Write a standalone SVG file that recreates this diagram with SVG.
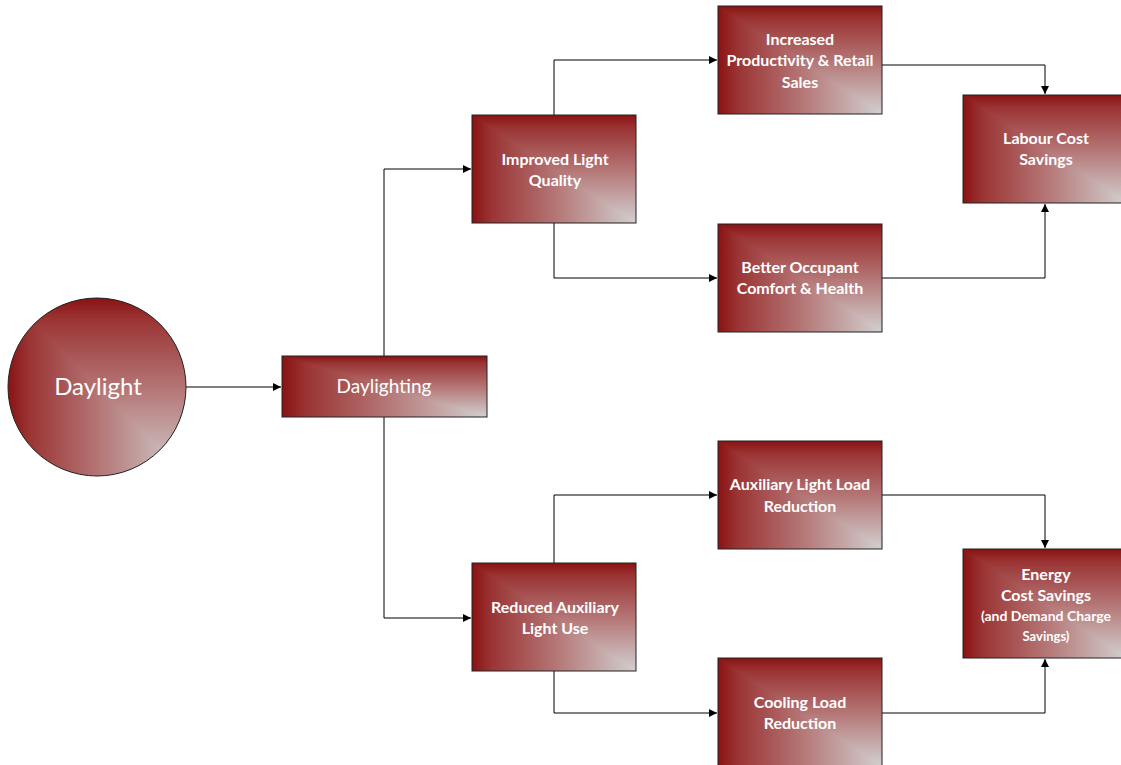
<svg xmlns="http://www.w3.org/2000/svg" width="1121" height="765" viewBox="0 0 1121 765">
<defs>
<linearGradient id="gh" x1="0" y1="0" x2="1" y2="0">
<stop offset="0" stop-color="#8a1212"/>
<stop offset="0.12" stop-color="#9b3434"/>
<stop offset="0.5" stop-color="#b47474"/>
<stop offset="1" stop-color="#d2d0d0"/>
</linearGradient>
<linearGradient id="gv" x1="0" y1="0" x2="0" y2="1">
<stop offset="0" stop-color="#8a1212"/>
<stop offset="0.12" stop-color="#9b3434"/>
<stop offset="0.5" stop-color="#b47474"/>
<stop offset="1" stop-color="#d2d0d0"/>
</linearGradient>
<marker id="ar" viewBox="0 0 10 10" refX="10" refY="5" markerWidth="8" markerHeight="8" markerUnits="userSpaceOnUse" orient="auto">
<path d="M0,0 L10,5 L0,10 Z" fill="#000"/>
</marker>
<clipPath id="cc"><circle cx="97" cy="387" r="89"/></clipPath>
</defs>
<style>
.t{fill:#fff;font-family:Lato,"Liberation Sans",sans-serif;font-size:16px;font-weight:bold;text-anchor:middle}
.bd{fill:none;stroke:#222;stroke-width:1}
.c{fill:none;stroke:#000;stroke-width:1;marker-end:url(#ar)}
</style>
<rect width="1121" height="765" fill="#fff"/>
<g id="connectors">
<path class="c" d="M186,387 H281"/>
<path class="c" d="M384,356 V169 H471"/>
<path class="c" d="M384,417 V618 H471"/>
<path class="c" d="M554,115 V60 H717"/>
<path class="c" d="M554,223 V278 H717"/>
<path class="c" d="M882,65 H1045 V94"/>
<path class="c" d="M882,278 H1045 V204"/>
<path class="c" d="M554,563 V495 H717"/>
<path class="c" d="M554,671 V713 H717"/>
<path class="c" d="M882,495 H1045 V548"/>
<path class="c" d="M882,713 H1045 V659"/>
</g>
<g id="daylight">
<g clip-path="url(#cc)">
<rect x="8" y="298" width="178" height="178" fill="url(#gh)"/>
<path d="M8,298 L186,298 L186,476 Z" fill="url(#gv)"/>
</g>
<circle cx="97" cy="387" r="89" class="bd"/>
<text class="t" x="98" y="395" style="font-size:24px;font-weight:normal">Daylight</text>
</g>
<g id="daylighting">
<rect x="282" y="356" width="205" height="61" fill="url(#gh)"/>
<path d="M282,356 L487,356 L487,417 Z" fill="url(#gv)"/>
<rect x="282" y="356" width="205" height="61" class="bd"/>
<text class="t" x="384" y="393" style="font-size:19px;font-weight:normal">Daylighting</text>
</g>
<g id="improved">
<rect x="472" y="115" width="164" height="108" fill="url(#gh)"/>
<path d="M472,115 L636,115 L636,223 Z" fill="url(#gv)"/>
<rect x="472" y="115" width="164" height="108" class="bd"/>
<text class="t" x="555" y="165">Improved Light</text>
<text class="t" x="555" y="186">Quality</text>
</g>
<g id="productivity">
<rect x="718" y="6" width="164" height="108" fill="url(#gh)"/>
<path d="M718,6 L882,6 L882,114 Z" fill="url(#gv)"/>
<rect x="718" y="6" width="164" height="108" class="bd"/>
<text class="t" x="800" y="45">Increased</text>
<text class="t" x="800" y="66">Productivity &amp; Retail</text>
<text class="t" x="800" y="88">Sales</text>
</g>
<g id="comfort">
<rect x="718" y="224" width="164" height="108" fill="url(#gh)"/>
<path d="M718,224 L882,224 L882,332 Z" fill="url(#gv)"/>
<rect x="718" y="224" width="164" height="108" class="bd"/>
<text class="t" x="800" y="273">Better Occupant</text>
<text class="t" x="800" y="294">Comfort &amp; Health</text>
</g>
<g id="labour">
<rect x="963" y="95" width="164" height="108" fill="url(#gh)"/>
<path d="M963,95 L1127,95 L1127,203 Z" fill="url(#gv)"/>
<rect x="963" y="95" width="164" height="108" class="bd"/>
<text class="t" x="1046" y="144">Labour Cost</text>
<text class="t" x="1046" y="165">Savings</text>
</g>
<g id="reduced">
<rect x="472" y="563" width="164" height="108" fill="url(#gh)"/>
<path d="M472,563 L636,563 L636,671 Z" fill="url(#gv)"/>
<rect x="472" y="563" width="164" height="108" class="bd"/>
<text class="t" x="555" y="613">Reduced Auxiliary</text>
<text class="t" x="555" y="634">Light Use</text>
</g>
<g id="auxiliary">
<rect x="718" y="441" width="164" height="108" fill="url(#gh)"/>
<path d="M718,441 L882,441 L882,549 Z" fill="url(#gv)"/>
<rect x="718" y="441" width="164" height="108" class="bd"/>
<text class="t" x="800" y="490">Auxiliary Light Load</text>
<text class="t" x="800" y="512">Reduction</text>
</g>
<g id="cooling">
<rect x="718" y="658" width="164" height="108" fill="url(#gh)"/>
<path d="M718,658 L882,658 L882,766 Z" fill="url(#gv)"/>
<rect x="718" y="658" width="164" height="108" class="bd"/>
<text class="t" x="800" y="708">Cooling Load</text>
<text class="t" x="800" y="729">Reduction</text>
</g>
<g id="energy">
<rect x="963" y="549" width="164" height="109" fill="url(#gh)"/>
<path d="M963,549 L1127,549 L1127,658 Z" fill="url(#gv)"/>
<rect x="963" y="549" width="164" height="109" class="bd"/>
<text class="t" x="1046" y="580">Energy</text>
<text class="t" x="1046" y="601">Cost Savings</text>
<text class="t" x="1046" y="621" style="font-size:14px">(and Demand Charge</text>
<text class="t" x="1046" y="641" style="font-size:13px">Savings)</text>
</g>
</svg>
